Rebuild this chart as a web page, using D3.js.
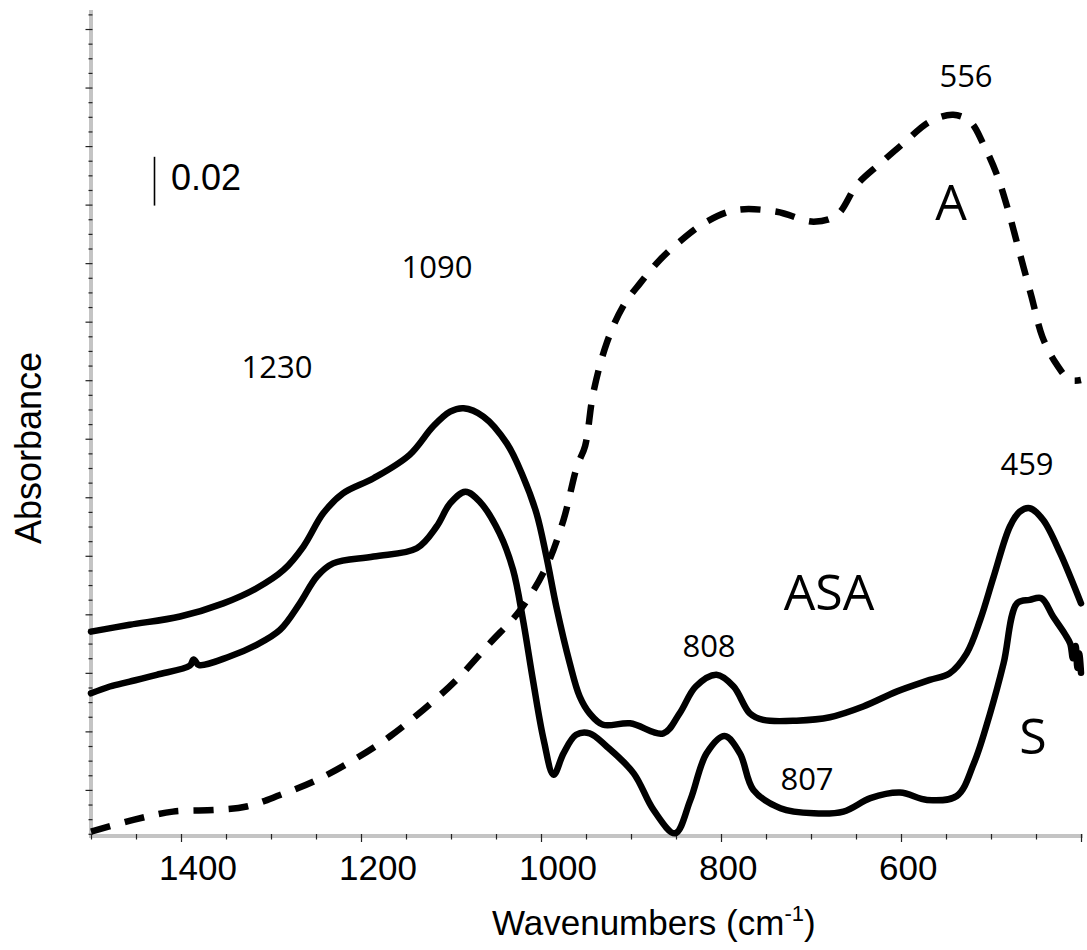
<!DOCTYPE html>
<html><head><meta charset="utf-8">
<script src="https://cdn.jsdelivr.net/npm/d3@7"></script>
<style>html,body{margin:0;padding:0;background:#fff;} svg{display:block;}</style>
</head><body>
<svg id="chart" width="1087" height="950"></svg>
<script>
// ---- data ----
const asaWn  = [1500,1457,1401,1353,1316,1286,1264,1242,1220,1186,1146,1120,1101,1086,1064,1038,1020,1005,994,983,968,957,946,931,901,864,846,828,805,786,768,753,716,679,642,605,568,546,527,512,497,479,468,457,442,423,412,400];
const asaAbs = [0.0649,0.0677,0.0711,0.0765,0.0827,0.0902,0.0998,0.1134,0.1216,0.1278,0.1374,0.1490,0.1551,0.1565,0.1531,0.1421,0.1285,0.1134,0.0957,0.0752,0.0519,0.0383,0.0314,0.0267,0.0273,0.0232,0.0314,0.0424,0.0472,0.0424,0.0314,0.0287,0.0284,0.0298,0.0342,0.0403,0.0451,0.0478,0.0560,0.0697,0.0875,0.1080,0.1141,0.1155,0.1107,0.0970,0.0875,0.0765];

const sWn  = [1500,1479,1457,1427,1390,1386,1380,1346,1316,1290,1268,1249,1231,1186,1138,1116,1101,1084,1068,1046,1031,1020,1009,997,986,975,961,946,927,897,875,851,834,816,796,779,764,734,697,664,634,601,571,538,519,501,486,471,457,444,431,418,412,409,406,404,402,400];
const sAbs = [0.0396,0.0424,0.0444,0.0472,0.0510,0.0535,0.0512,0.0547,0.0595,0.0656,0.0765,0.0875,0.0929,0.0957,0.0991,0.1080,0.1175,0.1223,0.1182,0.1052,0.0902,0.0697,0.0451,0.0205,0.0062,0.0150,0.0226,0.0232,0.0178,0.0068,-0.0082,-0.0178,-0.0041,0.0150,0.0221,0.0150,0.0000,-0.0075,-0.0096,-0.0089,-0.0034,-0.0011,-0.0041,-0.0025,0.0109,0.0314,0.0519,0.0765,0.0779,0.0786,0.0711,0.0640,0.0600,0.0540,0.0590,0.0500,0.0560,0.0480];

const aWn  = [1500,1453,1409,1360,1327,1290,1249,1205,1168,1131,1094,1057,1023,994,975,960,951,942,927,909,890,868,846,816,783,738,697,671,649,623,597,568,542,523,509,494,481,468,455,443,428,412,400];
const aAbs = [-0.0171,-0.0123,-0.0089,-0.0082,-0.0068,-0.0021,0.0041,0.0130,0.0219,0.0328,0.0451,0.0601,0.0738,0.0916,0.1107,0.1326,0.1410,0.1626,0.1832,0.1982,0.2077,0.2173,0.2248,0.2330,0.2378,0.2371,0.2330,0.2358,0.2481,0.2569,0.2652,0.2740,0.2768,0.2740,0.2652,0.2528,0.2378,0.2200,0.2023,0.1859,0.1750,0.1681,0.1681];

const xTickLabels = [1400,1200,1000,800,600];
const peakLabels = [
  {wn: 556,  text: "556",  px: 966, py: 87},
  {wn: 1090, text: "1090", px: 437, py: 278},
  {wn: 1230, text: "1230", px: 277, py: 378},
  {wn: 808,  text: "808",  px: 709, py: 657},
  {wn: 807,  text: "807",  px: 807, py: 790},
  {wn: 459,  text: "459",  px: 1027, py: 475}
];
const seriesNames = ["A","ASA","S"];

// ---- chart ----
const svg = d3.select("#chart");
const x = d3.scaleLinear().domain([1500, 400]).range([91, 1081]);
const y = d3.scaleLinear().domain([-0.0189, 0.3198]).range([836, 10]);

const axisGray = "#c4c4c4";
// axis lines (gray bands)
svg.append("line").attr("x1", 91).attr("x2", 91).attr("y1", y.range()[1]).attr("y2", y.range()[0] + 2)
  .attr("stroke", axisGray).attr("stroke-width", 4);
svg.append("line").attr("x1", x.range()[0] - 2).attr("x2", x.range()[1] + 2).attr("y1", 836).attr("y2", 836)
  .attr("stroke", axisGray).attr("stroke-width", 4);

// x ticks
const xMinor = d3.range(1500, 399, -50);
const gx = svg.append("g").attr("transform", "translate(0,836)")
  .call(d3.axisBottom(x).tickValues(xMinor).tickSize(4).tickFormat(""));
gx.select(".domain").remove();
gx.selectAll(".tick line").attr("stroke", "#222").attr("stroke-width", 1.2).attr("y1", -2)
  .attr("y2", d => d % 200 === 0 ? 6 : 3.5);

svg.append("g").selectAll("text").data(xTickLabels).join("text")
  .attr("x", d => x(d) - 22).attr("y", 880)
  .attr("text-anchor", "start")
  .attr("font-family", "'Liberation Sans', Arial, sans-serif").attr("font-size", 35).attr("fill", "#000")
  .text(d => d);

// y ticks
const yMinor = d3.range(-3, 54).map(i => +(i * 0.006).toFixed(3));
const gy = svg.append("g").attr("transform", "translate(91,0)")
  .call(d3.axisLeft(y).tickValues(yMinor).tickSize(3).tickFormat(""));
gy.select(".domain").remove();
gy.selectAll(".tick line").attr("stroke", "#222").attr("stroke-width", 1.2).attr("x1", 1.5)
  .attr("x2", (d, i) => (Math.round(d / 0.006) % 4 === 0) ? -5.5 : -2.5);

// axis titles
const xt = svg.append("text").attr("x", 492).attr("y", 935)
  .attr("font-family", "'Liberation Sans', Arial, sans-serif").attr("font-size", 35).attr("fill", "#000");
xt.append("tspan").text("Wavenumbers (cm");
xt.append("tspan").attr("font-size", 22).attr("dy", -14).text("-1");
xt.append("tspan").attr("dy", 14).text(")");

svg.append("text").attr("transform", "translate(41,448) rotate(-90)")
  .attr("text-anchor", "middle")
  .attr("font-family", "'Liberation Sans', Arial, sans-serif").attr("font-size", 36).attr("fill", "#000")
  .text("Absorbance");

// lines
const line = d3.line().x(d => x(d[0])).y(d => y(d[1])).curve(d3.curveCatmullRom.alpha(0.5));
const zip = (a, b) => a.map((v, i) => [v, b[i]]);

svg.append("path").datum(zip(aWn, aAbs)).attr("d", line)
  .attr("fill", "none").attr("stroke", "#000").attr("stroke-width", 6.5)
  .attr("stroke-dasharray", "20,15").attr("stroke-linejoin", "round");
svg.append("path").datum(zip(asaWn, asaAbs)).attr("d", line)
  .attr("fill", "none").attr("stroke", "#000").attr("stroke-width", 6.5)
  .attr("stroke-linejoin", "round").attr("stroke-linecap", "round");
svg.append("path").datum(zip(sWn, sAbs)).attr("d", line)
  .attr("fill", "none").attr("stroke", "#000").attr("stroke-width", 6.5)
  .attr("stroke-linejoin", "round").attr("stroke-linecap", "round");

// scale bar
const barBottom = 0.2396;
svg.append("line").attr("x1", 154.5).attr("x2", 154.5)
  .attr("y1", y(barBottom)).attr("y2", y(barBottom + 0.02))
  .attr("stroke", "#000").attr("stroke-width", 1.6);
svg.append("text").attr("x", 171).attr("y", 190)
  .attr("font-family", "'Liberation Sans', Arial, sans-serif").attr("font-size", 36).attr("fill", "#000")
  .text("0.02");

// peak labels
svg.append("g").selectAll("text").data(peakLabels).join("text")
  .attr("x", d => d.px).attr("y", d => d.py).attr("text-anchor", "middle")
  .attr("font-family", "'Open Sans', sans-serif").attr("font-size", 31).attr("fill", "#000")
  .text(d => d.text);

// series labels
const serLab = [{t: seriesNames[0], px: 951, py: 220}, {t: seriesNames[1], px: 829, py: 610}, {t: seriesNames[2], px: 1033, py: 754}];
svg.append("g").selectAll("text").data(serLab).join("text")
  .attr("x", d => d.px).attr("y", d => d.py).attr("text-anchor", "middle")
  .attr("font-family", "'Open Sans', sans-serif").attr("font-size", 50).attr("fill", "#000")
  .text(d => d.t);
</script>
</body></html>
